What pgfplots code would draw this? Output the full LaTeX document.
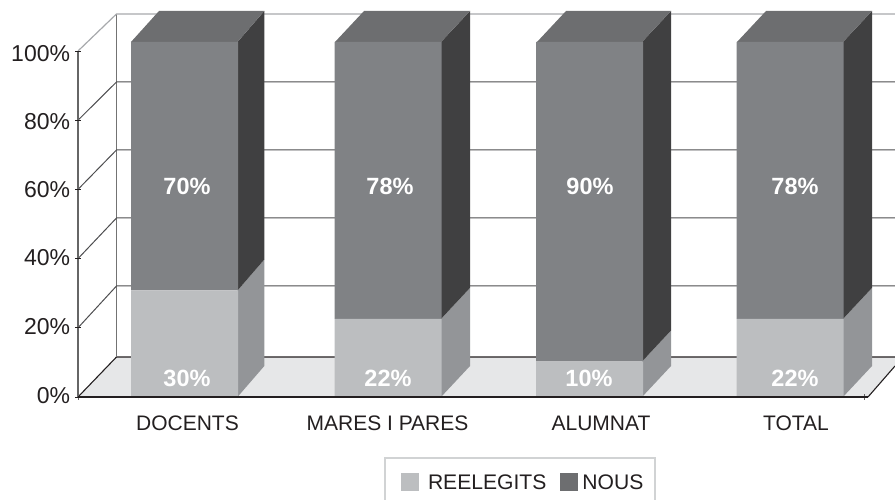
\documentclass[border=0pt]{standalone}
\usepackage{fontspec}
\setmainfont{Liberation Sans}
\usepackage{pgfplots}
\pgfplotsset{compat=1.18}
\definecolor{frontdark}{HTML}{808285}
\definecolor{frontlight}{HTML}{BCBEC0}
\definecolor{sidedark}{HTML}{404041}
\definecolor{sidelight}{HTML}{939598}
\definecolor{topdark}{HTML}{6D6E70}
\definecolor{floorc}{HTML}{E6E7E8}
\definecolor{gridc}{HTML}{4D4D4F}
\definecolor{wallc}{HTML}{A7A9AC}
\definecolor{legc}{HTML}{D1D3D4}
\definecolor{legdark}{HTML}{6D6E70}
\definecolor{inkc}{HTML}{231F20}
\pgfplotsset{
  base/.style={
    at={(78pt,103pt)}, anchor=south west, scale only axis,
    width=790pt, height=346pt,
    xmin=78, xmax=868, ymin=0, ymax=97.46, clip=false,
  },
  sq/.style={legend image code/.code={\path (0pt,0pt); \fill[#1] (7pt,-9pt) rectangle (25pt,9pt);}},
}
\newcommand{\lab}{\fontsize{23.5}{28}\selectfont\bfseries}
\begin{document}
\begin{tikzpicture}
\begin{axis}[base,
  axis y line=left, axis x line=bottom,
  axis line style={-},
  axis on top=true,
  x axis line style={draw=inkc, line width=1.2pt},
  y axis line style={draw=black!60, line width=1.5pt},
  ytick={0.42,19.86,39.15,58.31,77.46,96.62},
  yticklabels={0\%,20\%,40\%,60\%,80\%,100\%},
  ytick style={draw=none},
  major tick length=5.5pt,
  yticklabel style={font=\fontsize{23}{28}\selectfont, text=inkc, inner sep=0pt, xshift=-5pt},
  extra y ticks={0,19.49,38.98,58.48,77.97,97.46},
  extra y tick labels={},
  extra y tick style={ytick style={draw=inkc, line width=0.7pt}},
  xtick={187.5,387.5,601,796},
  xticklabels={DOCENTS,MARES I PARES,ALUMNAT,TOTAL},
  xtick style={draw=none},
  xticklabel style={font=\fontsize{21}{25}\selectfont, text=inkc, inner sep=0pt, text height=15pt, text depth=0pt, yshift=-15.5pt},
  extra x ticks={78,864},
  extra x tick labels={},
  extra x tick style={xtick style={draw=black!60, line width=1pt}},
  no markers,
]
% floor
\addplot[fill=floorc, draw=none] coordinates {(78,0)(116.5,11.27)(895,11.27)(895,8.73)(868,0)} -- cycle;
\addplot[draw=inkc, line width=1.1pt] coordinates {(78,0)(116.5,11.27)(895,11.27)};
\addplot[draw=inkc, line width=1.1pt] coordinates {(868,0)(895,8.73)};
% back wall and grid lines
\addplot[draw=black!55, line width=0.8pt] coordinates {(116.5,11.27)(116.5,107.89)};
\addplot[draw=gridc, line width=1pt] coordinates {(78,19.49)(116.5,31.27)(895,31.27)};
\addplot[draw=gridc, line width=1pt] coordinates {(78,38.98)(116.5,50.42)(895,50.42)};
\addplot[draw=gridc, line width=1pt] coordinates {(78,58.48)(116.5,69.58)(895,69.58)};
\addplot[draw=gridc, line width=1pt] coordinates {(78,77.97)(116.5,88.73)(895,88.73)};
\addplot[draw=wallc, line width=1.2pt] coordinates {(78,97.46)(116.5,107.89)(895,107.89)};
% DOCENTS
\addplot[fill=sidelight, draw=none] coordinates {(237.5,0)(264.3,8.73)(264.3,38.73)(237.5,30)} -- cycle;
\addplot[fill=sidedark, draw=none] coordinates {(237.5,30)(264.3,38.73)(264.3,108.73)(237.5,100)} -- cycle;
\addplot[fill=topdark, draw=none] coordinates {(131,100)(159,108.73)(264.3,108.73)(237.5,100)} -- cycle;
% MARES I PARES
\addplot[fill=sidelight, draw=none] coordinates {(441,0)(470,8.73)(470,30.73)(441,22)} -- cycle;
\addplot[fill=sidedark, draw=none] coordinates {(441,22)(470,30.73)(470,108.73)(441,100)} -- cycle;
\addplot[fill=topdark, draw=none] coordinates {(335,100)(364,108.73)(470,108.73)(441,100)} -- cycle;
% ALUMNAT
\addplot[fill=sidelight, draw=none] coordinates {(642,0)(671,8.73)(671,18.73)(642,10)} -- cycle;
\addplot[fill=sidedark, draw=none] coordinates {(642,10)(671,18.73)(671,108.73)(642,100)} -- cycle;
\addplot[fill=topdark, draw=none] coordinates {(537,100)(566,108.73)(671,108.73)(642,100)} -- cycle;
% TOTAL
\addplot[fill=sidelight, draw=none] coordinates {(843,0)(872,8.73)(872,30.73)(843,22)} -- cycle;
\addplot[fill=sidedark, draw=none] coordinates {(843,22)(872,30.73)(872,108.73)(843,100)} -- cycle;
\addplot[fill=topdark, draw=none] coordinates {(737,100)(766,108.73)(872,108.73)(843,100)} -- cycle;
\end{axis}
\begin{axis}[base,
  axis lines=none,
  ybar stacked, bar width=107pt,
  legend columns=2,
  legend style={at={(axis cs:384,-16.9)}, anchor=north west,
    draw=legc, line width=2pt, fill=white,
    font=\fontsize{21.1}{25}\selectfont, text=inkc,
    inner xsep=9pt, inner ysep=14pt,
    /tikz/column 1/.style={column sep=6pt},
    /tikz/column 2/.style={column sep=4pt},
    /tikz/column 3/.style={column sep=1pt},
    nodes={inner sep=3pt, text depth=0pt}},
]
\addplot[fill=frontlight, draw=none, sq={fill=frontlight}] coordinates {(184.5,30)(388,22)(589.5,10)(790,22)};
\addlegendentry{REELEGITS}
\addplot[fill=frontdark, draw=none, sq={fill=legdark}] coordinates {(184.5,70)(388,78)(589.5,90)(790,78)};
\addlegendentry{NOUS}
\end{axis}
\begin{axis}[base, axis lines=none]
\draw[inkc, line width=1.2pt] (axis cs:78,0) -- (axis cs:868,0);
\node[text=white, font=\lab] at (axis cs:187,5.35) {30\%};
\node[text=white, font=\lab] at (axis cs:388,5.35) {22\%};
\node[text=white, font=\lab] at (axis cs:589,5.35) {10\%};
\node[text=white, font=\lab] at (axis cs:795,5.35) {22\%};
\node[text=white, font=\lab] at (axis cs:187,59.44) {70\%};
\node[text=white, font=\lab] at (axis cs:390,59.44) {78\%};
\node[text=white, font=\lab] at (axis cs:590,59.44) {90\%};
\node[text=white, font=\lab] at (axis cs:795,59.44) {78\%};
\end{axis}
\pgfresetboundingbox
\path (0pt,0pt) rectangle (895pt,500pt);
\end{tikzpicture}
\end{document}
